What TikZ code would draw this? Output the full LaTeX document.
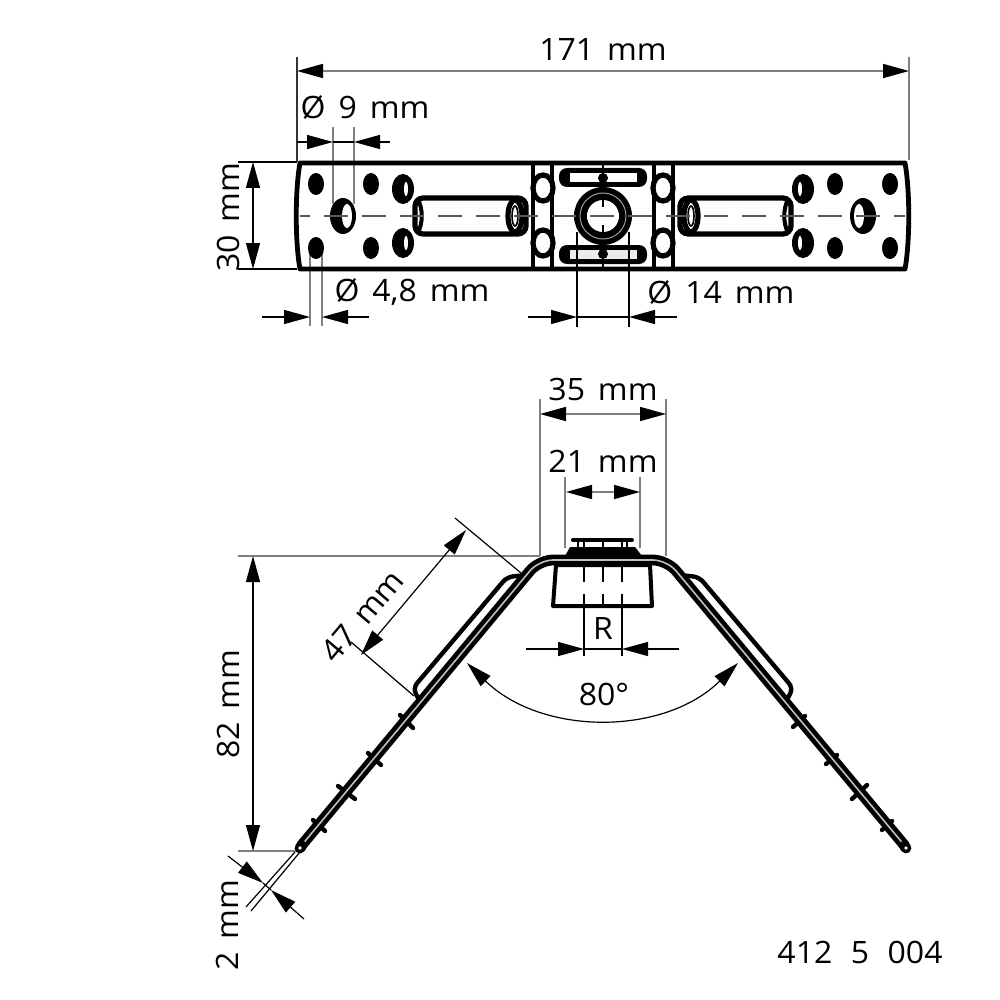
\documentclass[tikz,border=0pt]{standalone}
\usepackage{fontspec}
\setmainfont[FakeStretch=1.04]{Open Sans}
\usetikzlibrary{arrows.meta}
\definecolor{extgray}{gray}{0.5}
\definecolor{midgray}{gray}{0.35}
\newcommand{\dimfont}{\fontsize{15.4}{0}\selectfont\spaceskip=.42em\relax}
\newcommand{\idfont}{\fontsize{15.4}{0}\selectfont\spaceskip=.6em\relax}
\tikzset{
	tip/.tip={Triangle[length=13pt,width=7pt,color=black,fill=black]},
	dimline/.style={line width=.6pt, color=black},
	dimgray/.style={line width=.8pt, color=extgray},
	extline/.style={line width=.8pt, color=extgray},
	extdark/.style={line width=.6pt, color=black!80},
	plateline/.style={line width=1.7pt, color=black},
	dimlabel/.style={font=\dimfont, inner sep=0pt},
	idlabel/.style={font=\idfont, inner sep=0pt},
	legline/.style={line width=2.3pt, double=black!25, double distance=.8pt, line join=round},
	toothline/.style={line width=2.2pt, line cap=round},
	stripline/.style={line width=2.2pt, rounded corners=3pt, fill=white, line join=round},
	center/.style={line width=.8pt, color=midgray, dash pattern=on 12pt off 7pt, dash phase=7pt}
}
\begin{document}
\begin{tikzpicture}[x=.5pt, y=-.5pt]
	\useasboundingbox (0,0) rectangle (1000,1000);

	\coordinate (w_l) at (297,71);
	\coordinate (w_r) at (909,71);
	\coordinate (w_lt) at (297,57);
	\coordinate (w_lb) at (297,162);
	\coordinate (w_rt) at (909,57);
	\coordinate (w_rb) at (909,160);
	\draw[dimgray, tip-tip] (w_l)--(w_r);
	\draw[extdark] (w_lt)--(w_lb);
	\draw[extline] (w_rt)--(w_rb);

	\coordinate (h_s) at (297,142);
	\coordinate (h_e) at (390,142);
	\coordinate (h_a) at (333,142);
	\coordinate (h_b) at (354,142);
	\coordinate (h_at) at (333,127);
	\coordinate (h_ab) at (333,204);
	\coordinate (h_bt) at (354,127);
	\coordinate (h_bb) at (354,204);
	\draw[extline] (h_at)--(h_ab) (h_bt)--(h_bb);
	\draw[dimline, -tip] (h_s)--(h_a);
	\draw[dimline, -tip] (h_e)--(h_b);
	\draw[dimline] (h_a)--(h_b);

	\coordinate (t_t) at (253,162);
	\coordinate (t_b) at (253,269);
	\coordinate (t_tl) at (238,162);
	\coordinate (t_tr) at (297,162);
	\coordinate (t_bl) at (238,269);
	\coordinate (t_br) at (297,269);
	\draw[dimline] (t_tl)--(t_tr) (t_bl)--(t_br);
	\draw[dimline, tip-tip] (t_t)--(t_b);

	\coordinate (s_s) at (262,317);
	\coordinate (s_e) at (369,317);
	\coordinate (s_a) at (310,317);
	\coordinate (s_b) at (322,317);
	\coordinate (s_at) at (310,250);
	\coordinate (s_ab) at (310,326);
	\coordinate (s_bt) at (322,250);
	\coordinate (s_bb) at (322,326);
	\draw[extline] (s_at)--(s_ab) (s_bt)--(s_bb);
	\draw[dimline, -tip] (s_s)--(s_a);
	\draw[dimline, -tip] (s_e)--(s_b);

	\coordinate (b_s) at (528,317);
	\coordinate (b_e) at (677,317);
	\coordinate (b_a) at (577,317);
	\coordinate (b_b) at (629,317);
	\coordinate (b_at) at (577,232);
	\coordinate (b_ab) at (577,327);
	\coordinate (b_bt) at (629,232);
	\coordinate (b_bb) at (629,327);
	\draw[dimline, -tip] (b_s)--(b_a);
	\draw[dimline, -tip] (b_e)--(b_b);
	\draw[dimline] (b_a)--(b_b);

	\draw[line width=2.4pt, line join=round]
		(300,163)--(905,163)
		.. controls (910,190) and (910,242) .. (905,269)
		--(300,269)
		.. controls (295,242) and (295,190) .. (300,163)
		--cycle;
	\draw[plateline] (533,163)--(533,269) (552,163)--(552,269) (654,163)--(654,269) (673,163)--(673,269);

	\foreach \s in {1,-1} {
		\begin{scope}[shift={(603,0)}, xscale=\s]
			\fill (-287,184) ellipse [x radius=8, y radius=11];
			\fill (-287,248) ellipse [x radius=8, y radius=11];
			\fill (-232,184) ellipse [x radius=8, y radius=11];
			\fill (-232,248) ellipse [x radius=8, y radius=11];
			\fill (-200,189) ellipse [x radius=11, y radius=15];
			\fill (-200,243) ellipse [x radius=11, y radius=15];
			\fill[white] (-197,189) ellipse [x radius=2, y radius=7];
			\fill[white] (-197,243) ellipse [x radius=2, y radius=7];
			\fill (-260,216) ellipse [x radius=13, y radius=18];
			\fill[white] (-256,216) ellipse [x radius=5, y radius=12];
			\draw[line width=2.6pt, rounded corners=4pt, fill=white] (-188,198) rectangle (-77,234);
			\draw[line width=2pt] (-185,199) .. controls (-180,210) and (-180,222) .. (-185,233);
			\draw[line width=2.6pt, fill=white] (-88,216) ellipse [x radius=7, y radius=16];
			\draw[line width=.8pt] (-88,216) ellipse [x radius=3, y radius=10];
			\draw[line width=2.6pt, fill=white] (-60,188) ellipse [x radius=10, y radius=13];
			\draw[line width=2.6pt, fill=white] (-60,243) ellipse [x radius=10, y radius=13];
		\end{scope}
	}

	\fill[rounded corners=4pt] (559,168) rectangle (647,187);
	\fill[white] (570,173) rectangle (637,182);
	\fill[rounded corners=4pt] (559,245) rectangle (647,264);
	\fill[black!8] (570,250) rectangle (637,259);
	\fill (603,178) circle (5);
	\fill (603,254) circle (5);
	\fill (603,216) circle (29);
	\draw[line width=.5pt, color=black!40] (603,216) circle (23);
	\fill[white] (603,216) circle (16);
	\draw[center] (300,216)--(905,216);
	\draw[line width=.8pt] (603,164)--(603,170) (603,173)--(603,178) (603,194)--(603,207) (603,225)--(603,238) (603,254)--(603,259) (603,264)--(603,268);
	\draw[dimline] (b_at)--(b_ab) (b_bt)--(b_bb);

	\coordinate (c_l) at (540,414);
	\coordinate (c_r) at (666,414);
	\coordinate (c_lt) at (540,399);
	\coordinate (c_lb) at (540,556);
	\coordinate (c_rt) at (666,399);
	\coordinate (c_rb) at (666,556);
	\draw[extline] (c_lt)--(c_lb) (c_rt)--(c_rb);
	\draw[dimgray, tip-tip] (c_l)--(c_r);

	\coordinate (d_l) at (566,492);
	\coordinate (d_r) at (640,492);
	\coordinate (d_lt) at (565,477);
	\coordinate (d_lb) at (565,548);
	\coordinate (d_rt) at (640,477);
	\coordinate (d_rb) at (640,548);
	\draw[extline] (d_lt)--(d_lb) (d_rt)--(d_rb);
	\draw[dimgray, tip-tip] (d_l)--(d_r);

	\coordinate (v_t) at (253,556);
	\coordinate (v_b) at (253,851);
	\coordinate (v_tl) at (238,556);
	\coordinate (v_tr) at (540,556);
	\coordinate (v_bl) at (238,851);
	\coordinate (v_br) at (297,851);
	\draw[extline] (v_tl)--(v_tr) (v_bl)--(v_br);
	\draw[dimline, tip-tip] (v_t)--(v_b);

	\coordinate (l_t) at (466,530);
	\coordinate (l_b) at (361,655);
	\coordinate (l_ts) at (455,518);
	\coordinate (l_te) at (521,573);
	\coordinate (l_bs) at (351,642);
	\coordinate (l_be) at (414,696);
	\draw[dimline] (l_ts)--(l_te) (l_bs)--(l_be);
	\draw[dimline, tip-tip] (l_t)--(l_b);

	\coordinate (r_s) at (526,649);
	\coordinate (r_e) at (679,649);
	\coordinate (r_a) at (584,649);
	\coordinate (r_b) at (622,649);
	\coordinate (r_at) at (584,594);
	\coordinate (r_ab) at (584,656);
	\coordinate (r_bt) at (622,594);
	\coordinate (r_bb) at (622,656);
	\draw[dimline, -tip] (r_s)--(r_a);
	\draw[dimline, -tip] (r_e)--(r_b);
	\draw[dimline] (r_a)--(r_b);

	\coordinate (a_l) at (467,663);
	\coordinate (a_r) at (738,663);
	\draw[dimline, tip-tip] (a_l) .. controls (542,736) and (664,736) .. (a_r);

	\coordinate (g_s) at (228,856);
	\coordinate (g_a) at (263,883);
	\coordinate (g_b) at (271,890);
	\coordinate (g_e) at (304,919);
	\coordinate (g_at) at (295,852);
	\coordinate (g_ab) at (246,907);
	\coordinate (g_bt) at (300,852);
	\coordinate (g_bb) at (251,911);
	\draw[dimline] (g_at)--(g_ab) (g_bt)--(g_bb);
	\draw[dimline, -tip] (g_s)--(g_a);
	\draw[dimline, -tip] (g_e)--(g_b);
	\draw[dimline] (g_a)--(g_b);

	\draw[toothline]
		(400,715)--(413,728)
		(368,753)--(381,765)
		(338,786)--(355,799)
		(313,820)--(325,831)
		(805,716)--(793,727)
		(837,755)--(826,764)
		(867,785)--(852,799)
		(892,821)--(882,830);

	\draw[stripline] (420,702)--(413,688)--(507,577)--(527,575)--cycle;
	\draw[stripline] (786,702)--(793,688)--(699,577)--(679,575)--cycle;
	\draw[legline, rounded corners=7pt] (301,846)--(539,560)--(667,560)--(905,846);
	\draw[line width=5.4pt, line cap=round] (300,848)--(301.5,846);
	\fill[white] (300,848) circle (1.8);
	\draw[line width=5.4pt, line cap=round] (906,848)--(904.5,846);
	\fill[white] (906,848) circle (1.8);

	\draw[line width=2pt, fill=white, line join=round] (556,565)--(650,565)--(652,606)--(553,606)--cycle;
	\draw[line width=.8pt, dash pattern=on 8pt off 6pt] (584,566)--(584,594) (603,566)--(603,606) (622,566)--(622,594);
	\draw[dimline] (r_at)--(r_ab) (r_bt)--(r_bb);
	\fill (565,556)--(570,547)--(635,547)--(642,556)--cycle;
	\draw[line width=1pt, fill=white] (578,541) rectangle (627,548);
	\draw[line width=.8pt] (584,541)--(584,548) (603,541)--(603,548) (622,541)--(622,548);
	\draw[line width=2pt, line cap=round] (573,540)--(632,540);

	\node[dimlabel] (w_label) at (603,50) {171 mm};
	\node[dimlabel] (h_label) at (365,107) {Ø 9 mm};
	\node[dimlabel, rotate=90] (t_label) at (228,217) {30 mm};
	\node[dimlabel] (s_label) at (412,292) {Ø 4,8 mm};
	\node[dimlabel] (b_label) at (721,292) {Ø 14 mm};
	\node[dimlabel] (c_label) at (603,389) {35 mm};
	\node[dimlabel] (d_label) at (603,461) {21 mm};
	\node[dimlabel, rotate=90] (v_label) at (228,704) {82 mm};
	\node[dimlabel, rotate=50] (l_label) at (362,616) {47 mm};
	\node[dimlabel] (r_label) at (603,629) {R};
	\node[dimlabel] (a_label) at (604,694) {80°};
	\node[dimlabel, rotate=90] (g_label) at (227,925) {2 mm};
	\node[idlabel] (id_label) at (860,952) {412 5 004};
\end{tikzpicture}
\end{document}
